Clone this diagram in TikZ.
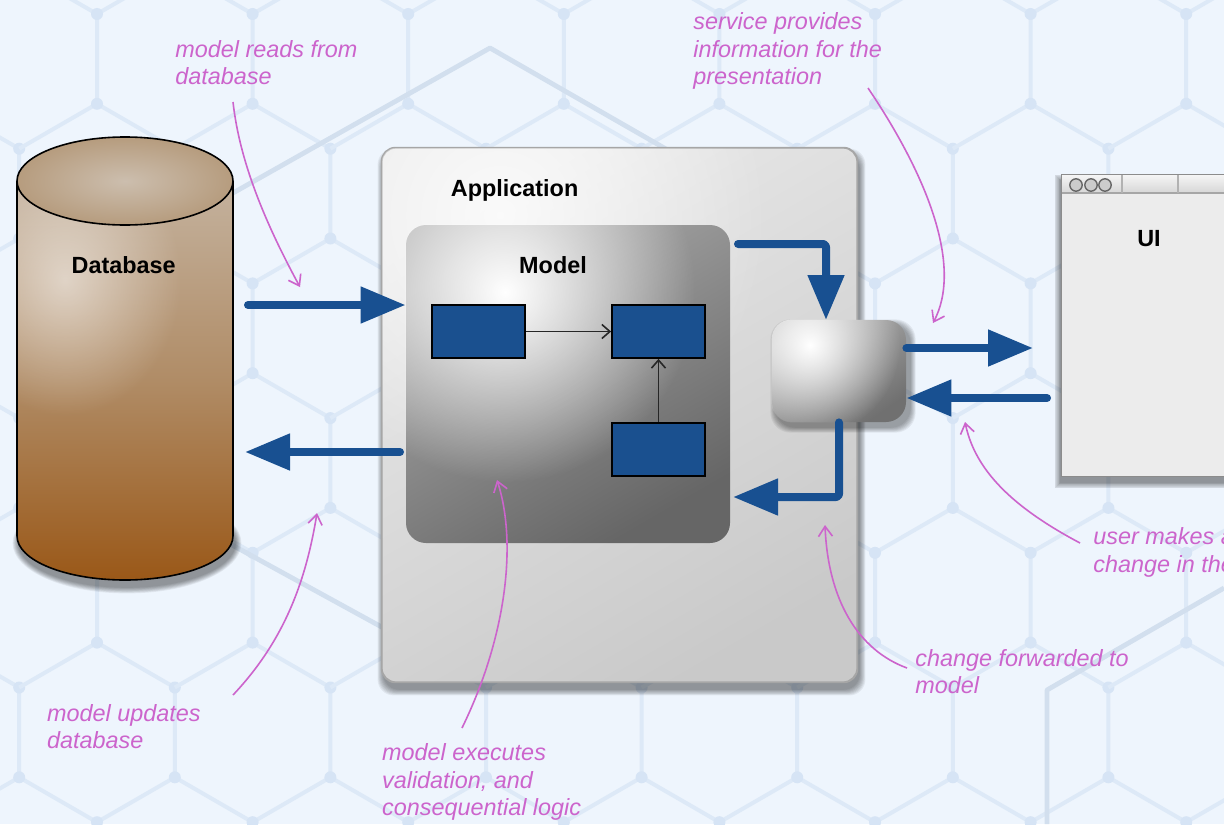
\documentclass[tikz,border=0pt]{standalone}
\usepackage{fontspec}
\setmainfont{Liberation Sans}
\usetikzlibrary{arrows.meta,fadings}
\tikzfading[name=myglow, inner color=transparent!0, outer color=transparent!100]
\definecolor{bgc}{RGB}{238,245,253}
\definecolor{hexc}{RGB}{221,233,247}
\definecolor{hexdot}{RGB}{214,228,245}
\definecolor{bigc}{RGB}{210,223,238}
\definecolor{notec}{RGB}{204,100,204}
\definecolor{flow}{RGB}{24,80,145}
\definecolor{boxblue}{RGB}{26,80,143}
\definecolor{cyltop}{RGB}{196,178,158}
\definecolor{cylmid}{RGB}{176,140,102}
\definecolor{cylbot}{RGB}{154,88,24}
\definecolor{cylcapin}{RGB}{204,190,174}
\definecolor{cylcapout}{RGB}{182,156,126}
\definecolor{uifill}{RGB}{236,236,236}
\begin{document}
\begin{tikzpicture}[x=0.5pt,y=-0.5pt,
  hexline/.style={draw=hexc, line width=2pt, line join=round},
  bigline/.style={draw=bigc, line width=2.4pt, line join=round},
  notetext/.style={text=notec, font=\fontsize{11.7}{13.8}\selectfont\itshape, align=left, anchor=north west, inner sep=0pt},
  notearrow/.style={draw=notec, line width=0.8pt, -{Straight Barb[length=5pt,width=7pt]}},
  boldlabel/.style={font=\fontsize{11.7}{14}\selectfont\bfseries, anchor=base, inner sep=0pt},
  flowarrow/.style={draw=flow, line width=4pt, line cap=round, line join=round, rounded corners=1.5pt, -{Triangle[length=22.5pt,width=17.5pt]}},
  tinyarrow/.style={draw=black!85, line width=0.8pt, -{Straight Barb[length=4pt,width=7pt]}},
  bluebox/.style={draw=black, line width=0.9pt, fill=boxblue, minimum width=46.5pt, minimum height=26.5pt, inner sep=0pt},
  appbox/.style={top color=white!91!black, bottom color=white!79!black, shading angle=30, draw=black!35, line width=0.6pt, rounded corners=7pt, minimum width=237.5pt, minimum height=267pt, inner sep=0pt},
  modelbox/.style={top color=white!66!black, bottom color=white!40!black, shading angle=30, rounded corners=10pt, minimum width=162pt, minimum height=159pt, inner sep=0pt},
  svcbox/.style={top color=white!72!black, bottom color=white!44!black, shading angle=35, rounded corners=10pt, minimum width=67pt, minimum height=51pt, inner sep=0pt},
  uibox/.style={fill=uifill, minimum width=119pt, minimum height=150.5pt, inner sep=0pt},
  softshadow/.style={fill=black, opacity=0.06}
]
\useasboundingbox (0,0) rectangle (1224,824);
\clip (0,0) rectangle (1224,824);
\fill[bgc] (0,0) rectangle (1224,824);

% hexagon background
\foreach \k in {-1,...,8}{
  \foreach \m in {-1,...,3}{
    \pgfmathsetmacro\xa{97+155.6*\k}
    \pgfmathsetmacro\ya{14+269.4*\m}
    \draw[hexline] ({\xa},{\ya}) -- ({\xa},{\ya+89.8}) -- ({\xa+77.8},{\ya+134.7}) -- ({\xa+77.8},{\ya+224.5}) -- ({\xa},{\ya+269.4});
    \draw[hexline] ({\xa},{\ya+89.8}) -- ({\xa-77.8},{\ya+134.7});
    \draw[hexline] ({\xa+77.8},{\ya+224.5}) -- ({\xa+155.6},{\ya+269.4});
    \fill[hexdot] ({\xa},{\ya}) circle[radius=3pt];
    \fill[hexdot] ({\xa},{\ya+89.8}) circle[radius=3pt];
    \fill[hexdot] ({\xa+77.8},{\ya+134.7}) circle[radius=3pt];
    \fill[hexdot] ({\xa+77.8},{\ya+224.5}) circle[radius=3pt];
  }
}
\draw[bigline] (100,268) -- (490,48) -- (760,203);
\draw[bigline] (150,500) -- (420,648);
\draw[bigline] (1047,824) -- (1047,690) -- (1224,588);

% shadows
\foreach \i in {1,...,8}
  \fill[softshadow, rounded corners=8pt] ({384-\i*0.8},{155-\i*0.8}) rectangle ({859+\i*0.8},{689+\i*0.8});
\foreach \i in {1,...,8}
  \fill[softshadow] (127,543) ellipse[x radius={54pt+\i*0.4pt}, y radius={22pt+\i*0.4pt}];
\foreach \i in {1,...,8}
  \fill[softshadow] ({1061-\i*0.8},{181-\i*0.8}) rectangle ({1310+\i*0.8},{482+\i*0.8});

% database cylinder
\shade[top color=cyltop, bottom color=cylbot, middle color=cylmid] (17,181) -- (17,536) arc[start angle=180, end angle=360, x radius=54pt, y radius=22pt] -- (233,181) -- cycle;
\begin{scope}
  \clip (17,181) -- (17,536) arc[start angle=180, end angle=360, x radius=54pt, y radius=22pt] -- (233,181) -- cycle;
  \fill[white, opacity=0.55, path fading=myglow] (65,280) ellipse[x radius=58pt, y radius=68pt];
\end{scope}
\draw[black, line width=0.8pt] (17,181) -- (17,536) arc[start angle=180, end angle=360, x radius=54pt, y radius=22pt] -- (233,181);
\path[draw=black, line width=0.8pt, inner color=cylcapin, outer color=cylcapout] (125,181) ellipse[x radius=54pt, y radius=22pt];
\node[boldlabel] (dblbl) at (123.7,273) {Database};

% application
\node[appbox] (app) at (619.5,415) {};
\begin{scope}
  \clip[rounded corners=7pt] (app.north west) rectangle (app.south east);
  \fill[white, opacity=0.8, path fading=myglow] (500,215) ellipse[x radius=135pt, y radius=135pt];
\end{scope}
\draw[black!35, line width=0.6pt, rounded corners=7pt] (app.north west) rectangle (app.south east);
\node[boldlabel] (applbl) at (514.6,196.7) {Application};
\node[modelbox] (model) at (568,384) {};
\begin{scope}
  \clip[rounded corners=10pt] (model.north west) rectangle (model.south east);
  \fill[white, path fading=myglow] (505,292) ellipse[x radius=95pt, y radius=95pt];
\end{scope}
\node[boldlabel] (modellbl) at (553,273.3) {Model};
\node[bluebox] (r1) at (478.5,331.5) {};
\node[bluebox] (r2) at (658.5,331.5) {};
\node[bluebox] (r3) at (658.5,449.5) {};
\draw[tinyarrow] (r1.east) -- (r2.west);
\draw[tinyarrow] (r3.north) -- (r2.south);

% service
\foreach \i in {1,...,7}
  \fill[softshadow, rounded corners=10pt] ({776-\i*0.8},{325-\i*0.8}) rectangle ({910+\i*0.8},{427+\i*0.8});
\node[svcbox] (svc) at (839,371) {};
\begin{scope}
  \clip[rounded corners=10pt] (svc.north west) rectangle (svc.south east);
  \fill[white, path fading=myglow] (810,345) ellipse[x radius=45pt, y radius=45pt];
\end{scope}

% UI window
\node[uibox] (ui) at (1181,325.5) {};
\shade[top color=white!96!black, bottom color=white!84!black] (1062,175) rectangle (1300,193);
\draw[gray!70, line width=0.6pt] (1062,193) -- (1300,193);
\draw[gray!60, line width=0.6pt] (1122,175) -- (1122,193) (1178,175) -- (1178,193);
\foreach \cx in {1076,1091,1105}
  \filldraw[fill=gray!40, draw=black!60, line width=0.7pt] (\cx,185) circle[radius=3.1pt];
\draw[black!45, line width=0.8pt] (ui.north west) rectangle (ui.south east);
\node[boldlabel] (uilbl) at (1149,246.7) {UI};

% flow arrows
\coordinate (f1s) at (248,305);
\coordinate (f2s) at (400,452);
\coordinate (f2e) at (245,452);
\coordinate (f3s) at (738,244);
\coordinate (f3e) at (826,320);
\coordinate (f4e) at (1033,348);
\coordinate (f5s) at (1047,398);
\coordinate (f6e) at (733,497);
\draw[flowarrow] (f1s) -- (f1s -| model.west);
\draw[flowarrow] (f2s) -- (f2e);
\draw[flowarrow] (f3s) -| (f3e);
\draw[flowarrow] (f4e -| svc.east) -- (f4e);
\draw[flowarrow] (f5s) -- (f5s -| svc.east);
\draw[flowarrow] (svc.south) |- (f6e);

% annotations
\node[notetext] (n1) at (175,39.9) {model reads from\\database};
\node[notetext] (n2) at (693,12.3) {service provides\\information for the\\presentation};
\node[notetext] (n3) at (1093,527.3) {user makes a\\change in the UI};
\node[notetext] (n4) at (915,649) {change forwarded to\\model};
\node[notetext] (n5) at (46.7,704) {model updates\\database};
\node[notetext] (n6) at (381.7,743.3) {model executes\\validation, and\\consequential logic};

\coordinate (c1s) at (233,102);  \coordinate (c1e) at (300,287);
\coordinate (c2s) at (868,88);   \coordinate (c2e) at (933,323);
\coordinate (c3s) at (1080,543); \coordinate (c3e) at (965,422);
\coordinate (c4s) at (907,668);  \coordinate (c4e) at (825,525);
\coordinate (c5s) at (233,695);  \coordinate (c5e) at (317,513);
\coordinate (c6s) at (462,728);  \coordinate (c6e) at (497,480);
\draw[notearrow] (c1s) .. controls (240,165) and (268,228) .. (c1e);
\draw[notearrow] (c2s) .. controls (930,180) and (962,268) .. (c2e);
\draw[notearrow] (c3s) .. controls (1012,507) and (975,470) .. (c3e);
\draw[notearrow] (c4s) .. controls (858,650) and (828,600) .. (c4e);
\draw[notearrow] (c5s) .. controls (285,640) and (306,580) .. (c5e);
\draw[notearrow] (c6s) .. controls (505,640) and (518,545) .. (c6e);
\end{tikzpicture}
\end{document}
